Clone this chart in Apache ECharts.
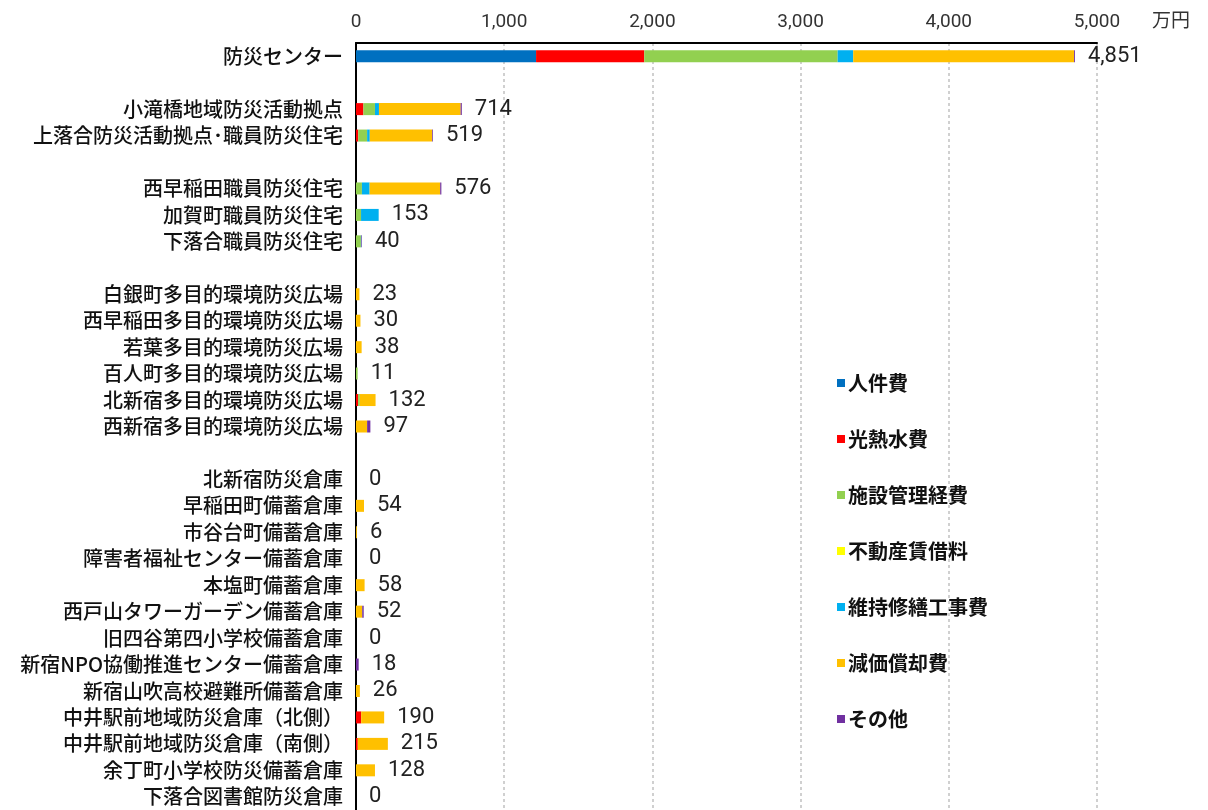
<!DOCTYPE html>
<html>
<head>
<meta charset="utf-8">
<script src="https://cdn.jsdelivr.net/npm/echarts@6/dist/echarts.min.js"></script>
<style>
html,body{margin:0;padding:0;background:#fff;}
#chart{width:1208px;height:810px;}
</style>
</head>
<body>
<div id="chart"></div>
<script>
// Categories (blank rows are spacer rows)
const categories = [
  '防災センター', ' ',
  '小滝橋地域防災活動拠点', '上落合防災活動拠点･職員防災住宅', '  ',
  '西早稲田職員防災住宅', '加賀町職員防災住宅', '下落合職員防災住宅', '   ',
  '白銀町多目的環境防災広場', '西早稲田多目的環境防災広場', '若葉多目的環境防災広場',
  '百人町多目的環境防災広場', '北新宿多目的環境防災広場', '西新宿多目的環境防災広場', '    ',
  '北新宿防災倉庫', '早稲田町備蓄倉庫', '市谷台町備蓄倉庫', '障害者福祉センター備蓄倉庫',
  '本塩町備蓄倉庫', '西戸山タワーガーデン備蓄倉庫', '旧四谷第四小学校備蓄倉庫',
  '新宿NPO協働推進センター備蓄倉庫', '新宿山吹高校避難所備蓄倉庫',
  '中井駅前地域防災倉庫（北側）', '中井駅前地域防災倉庫（南側）',
  '余丁町小学校防災備蓄倉庫', '下落合図書館防災倉庫'
];

const seriesNames = ['人件費', '光熱水費', '施設管理経費', '不動産賃借料', '維持修繕工事費', '減価償却費', 'その他'];

const personnel   = [1215, null, 0, 0, null, 0, 0, 0, null, 0, 0, 0, 0, 0, 0, null, 0, 0, 0, 0, 0, 0, 0, 0, 0, 0, 0, 0, 0];
const utilities   = [730, null, 50, 15, null, 0, 0, 0, null, 0, 0, 0, 0, 14, 0, null, 0, 0, 0, 0, 0, 0, 0, 0, 0, 35, 12, 0, 0];
const management  = [1305, null, 78, 60, null, 40, 34, 33, null, 0, 0, 0, 11, 12, 0, null, 0, 0, 0, 0, 0, 0, 0, 0, 0, 0, 0, 0, 0];
const rent        = [0, null, 0, 0, null, 0, 0, 0, null, 0, 0, 0, 0, 0, 0, null, 0, 0, 0, 0, 0, 0, 0, 0, 0, 0, 0, 0, 0];
const repairs     = [105, null, 27, 18, null, 52, 119, 3, null, 0, 0, 0, 0, 0, 0, null, 0, 0, 0, 0, 0, 0, 0, 0, 0, 0, 0, 0, 0];
const depreciation= [1490, null, 551, 421, null, 476, 0, 0, null, 23, 30, 38, 0, 106, 75, null, 0, 54, 6, 0, 58, 42, 0, 0, 26, 155, 203, 128, 0];
const others      = [6, null, 8, 5, null, 8, 0, 4, null, 0, 0, 0, 0, 0, 22, null, 0, 0, 0, 0, 0, 10, 0, 18, 0, 0, 0, 0, 0];

const totals = [4851, null, 714, 519, null, 576, 153, 40, null, 23, 30, 38, 11, 132, 97, null, 0, 54, 6, 0, 58, 52, 0, 18, 26, 190, 215, 128, 0];

const xTicks = [0, 1000, 2000, 3000, 4000, 5000];
const unitLabel = '万円';

const colors = ['#0070C0', '#FF0000', '#92D050', '#FFFF00', '#00B0F0', '#FFC000', '#7030A0'];
const seriesData = [personnel, utilities, management, rent, repairs, depreciation, others];

const chart = echarts.init(document.getElementById('chart'));
const font = '"Noto Sans CJK JP", "Noto Sans", sans-serif';

const series = seriesNames.map((name, i) => ({
  name: name,
  type: 'bar',
  stack: 'total',
  barWidth: 12,
  itemStyle: { color: colors[i] },
  data: seriesData[i]
}));

series.push({
  name: '合計',
  type: 'bar',
  stack: 'total',
  barWidth: 12,
  itemStyle: { color: 'transparent' },
  silent: true,
  data: totals.map(t => (t === null ? null : 0)),
  label: {
    show: true,
    position: 'right',
    distance: 13,
    fontFamily: 'Roboto, sans-serif',
    fontSize: 22,
    color: '#222',
    formatter: p => {
      const t = totals[p.dataIndex];
      return t === null ? '' : t.toLocaleString('en-US');
    }
  }
});

chart.setOption({
  animation: false,
  backgroundColor: '#fff',
  textStyle: { fontFamily: font },
  grid: { left: 356, right: 111, top: 43, bottom: 0, containLabel: false },
  legend: {
    data: seriesNames,
    orient: 'vertical',
    left: 832,
    top: 368,
    icon: 'rect',
    itemWidth: 8,
    itemHeight: 8,
    itemGap: 36,
    textStyle: { fontFamily: font, fontSize: 20, fontWeight: 'bold', color: '#111', padding: [0, 0, 0, -2] }
  },
  xAxis: {
    type: 'value',
    position: 'top',
    min: xTicks[0],
    max: xTicks[xTicks.length - 1],
    interval: 1000,
    axisLine: { show: true, lineStyle: { color: '#000', width: 2 } },
    axisTick: { show: false },
    axisLabel: {
      margin: 11,
      fontFamily: 'Roboto, sans-serif',
      fontSize: 19,
      color: '#333',
      formatter: v => v.toLocaleString('en-US')
    },
    splitLine: { show: true, lineStyle: { color: '#d0d0d0', width: 2, type: [3, 3] } }
  },
  yAxis: {
    type: 'category',
    inverse: true,
    data: categories,
    axisLine: { show: true, lineStyle: { color: '#000', width: 2 } },
    axisTick: { show: false },
    axisLabel: {
      margin: 13,
      fontFamily: font,
      fontSize: 20,
      fontWeight: 500,
      color: '#111',
      interval: 0
    }
  },
  graphic: [{
    type: 'text',
    left: 1152,
    top: 10,
    style: { text: unitLabel, fontFamily: font, fontSize: 19, fill: '#333' }
  }],
  series: series
});
</script>
</body>
</html>
